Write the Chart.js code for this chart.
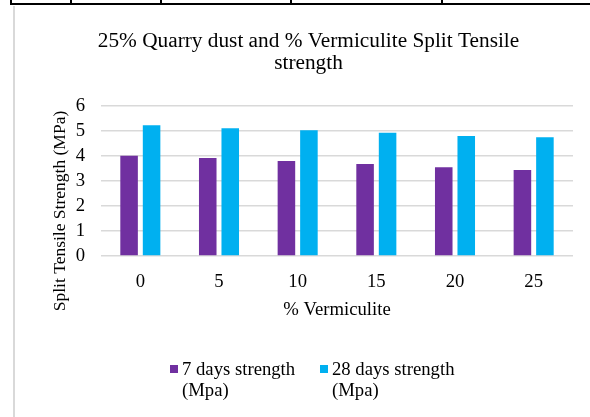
<!DOCTYPE html>
<html><head><meta charset="utf-8">
<script src="https://cdn.jsdelivr.net/npm/chart.js@4.4.0/dist/chart.umd.min.js"></script>
<style>
html,body{margin:0;padding:0;background:#fff;}
#wrap{position:relative;width:590px;height:417px;overflow:hidden;background:#fff;}
canvas{position:absolute;left:0;top:0;}
.tl{position:absolute;background:#000;}
</style></head><body>
<div id="wrap">
<canvas id="c" width="590" height="417"></canvas>
<div class="tl" style="left:10px;top:3px;width:580px;height:2px"></div>
<div class="tl" style="left:10px;top:0px;width:2px;height:5px"></div>
<div class="tl" style="left:70px;top:0px;width:2px;height:5px"></div>
<div class="tl" style="left:160px;top:0px;width:2px;height:5px"></div>
<div class="tl" style="left:290px;top:0px;width:2px;height:5px"></div>
<div class="tl" style="left:441px;top:0px;width:2px;height:5px"></div>
<div style="position:absolute;left:13px;top:6px;width:2px;height:411px;background:#d9d9d9"></div>
</div>
<script>
const categories = ['0', '5', '10', '15', '20', '25'];
const days7 = [4.01, 3.92, 3.80, 3.68, 3.55, 3.44];
const days28 = [5.23, 5.11, 5.03, 4.93, 4.80, 4.75];
const seriesNames = ['7 days strength (Mpa)', '28 days strength (Mpa)'];
const yTicks = [0, 1, 2, 3, 4, 5, 6];
const chartTitle = ['25% Quarry dust and % Vermiculite Split Tensile', 'strength'];
const xTitle = '% Vermiculite';
const yTitle = 'Split Tensile Strength (MPa)';

const FAMILY = '"Liberation Serif", "Times New Roman", serif';
const f18 = {family: FAMILY, size: 18.7, weight: 'normal', lineHeight: 1.2};

const textPlugin = {
  id: 'wrapLegend',
  afterDraw(chart) {
    const ctx = chart.ctx;
    ctx.save();
    // y axis title
    ctx.font = '17.5px ' + FAMILY;
    ctx.fillStyle = '#000';
    ctx.textAlign = 'center';
    ctx.textBaseline = 'middle';
    ctx.translate(60, 211);
    ctx.rotate(-Math.PI / 2);
    ctx.fillText(yTitle, 0, 0);
    ctx.restore();

    ctx.save();
    const xs = [170, 320];
    ctx.font = '18.7px ' + FAMILY;
    ctx.textBaseline = 'middle';
    ctx.textAlign = 'left';
    chart.data.datasets.forEach((ds, i) => {
      const x = xs[i];
      ctx.fillStyle = ds.backgroundColor;
      ctx.fillRect(x, 365, 8, 8);
      ctx.fillStyle = '#000';
      const lines = ds.label.replace(' (', '\n(').split('\n');
      lines.forEach((t, j) => ctx.fillText(t, x + 12, 370 + j * 21));
    });
    ctx.restore();
  }
};

new Chart(document.getElementById('c'), {
  type: 'bar',
  data: {
    labels: categories,
    datasets: [
      {label: seriesNames[0], data: days7, backgroundColor: '#7030A0'},
      {label: seriesNames[1], data: days28, backgroundColor: '#00B0F0'}
    ]
  },
  options: {
    responsive: false,
    animation: false,
    devicePixelRatio: 1,
    layout: {padding: {left: 44, right: 17, top: 30, bottom: 81}},
    datasets: {bar: {categoryPercentage: 0.572, barPercentage: 0.78}},
    plugins: {
      legend: {display: false},
      tooltip: {enabled: false},
      title: {
        display: true, text: chartTitle, color: '#000',
        font: {family: FAMILY, size: 21.3, weight: 'normal', lineHeight: 1.04},
        padding: {top: 0, bottom: 31.6}
      }
    },
    scales: {
      x: {
        grid: {display: false, drawTicks: false},
        border: {display: false},
        ticks: {font: f18, color: '#000', padding: 15, autoSkip: false, maxRotation: 0},
        title: {display: true, text: xTitle, font: f18, color: '#000', padding: {top: 0, bottom: 15}},
        afterFit(s) { s.height = 80; }
      },
      y: {
        min: 0, max: 6,
        afterBuildTicks(s) { s.ticks = yTicks.map(v => ({value: v})); },
        ticks: {font: f18, color: '#000', padding: 16, autoSkip: false},
        grid: {color: '#d9d9d9', lineWidth: 1.5, drawTicks: false},
        border: {display: false},
        title: {display: false},
        afterFit(s) { s.width = 57; }
      }
    }
  },
  plugins: [textPlugin]
});
</script>
</body></html>
